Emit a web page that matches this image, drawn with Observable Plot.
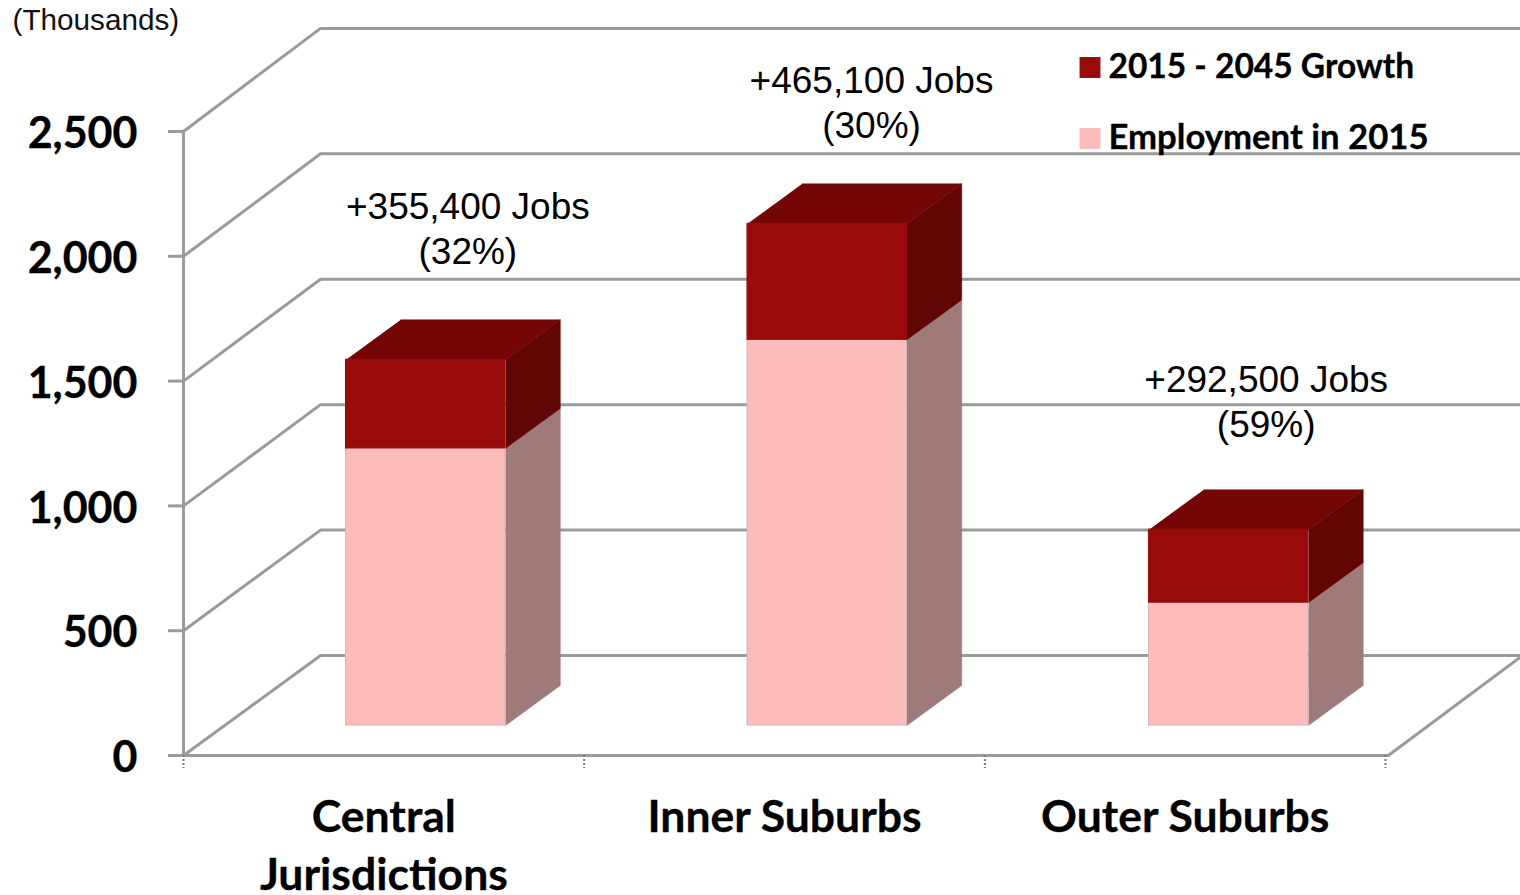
<!DOCTYPE html>
<html><head><meta charset="utf-8">
<style>html,body{margin:0;padding:0;background:#fff;overflow:hidden}svg{display:block}</style>
<script src="https://cdn.jsdelivr.net/npm/d3@7"></script>
<script src="https://cdn.jsdelivr.net/npm/@observablehq/plot@0.6"></script>
</head><body><div id="chart"></div>
<script>
const categories = ["Central\nJurisdictions", "Inner Suburbs", "Outer Suburbs"];
const employment2015 = [1110, 1545, 492];
const growth = [355.4, 465.1, 292.5];
const jobLabels = ["+355,400 Jobs\n(32%)", "+465,100 Jobs\n(30%)", "+292,500 Jobs\n(59%)"];
const yTicks = [0, 500, 1000, 1500, 2000, 2500];
const xBoundaries = [0, 1, 2, 3];
const legendNames = ["2015 - 2045 Growth", "Employment in 2015"];

const depthX = 0.342, depthY = 400.6, backScale = 1.005;
const barStart = 0.303, barWidth = 0.398, barNear = 0.3, barFar = 0.7;
const wall = "#9b9b9b";
const C = {base:"#fdbcbc", baseSide:"#9e7a7a", grow:"#990b0b", growSide:"#610505", top:"#750606"};
const labelLift = [650, 612, 640];
const labelShift = [84, 87, 81];
const SANS = "'Liberation Sans'", BOLD = "Lato";

const wallLines = [];
yTicks.forEach(v => {
  const back = v*backScale + depthY;
  wallLines.push({id:"g"+v, x:0, y:v}, {id:"g"+v, x:depthX, y:back}, {id:"g"+v, x:3+depthX, y:back});
});
wallLines.push({id:"left", x:0, y:0}, {id:"left", x:0, y:2500});
wallLines.push({id:"floor", x:0, y:0}, {id:"floor", x:3.007, y:0}, {id:"floor", x:3+depthX, y:depthY});

const polys = [], fronts = [];
categories.forEach((c, i) => {
  const L = i + barStart + i*0.002, R = L + barWidth;
  const dxN = barNear*depthX, dyN = barNear*depthY, dxF = barFar*depthX, dyF = barFar*depthY;
  const a = employment2015[i], b = a + growth[i];
  const quad = (id, fill, pts) => pts.forEach(p => polys.push({id:id+i, fill, x:p[0], y:p[1]}));
  quad("baseSide", C.baseSide, [[R+dxN,dyN],[R+dxF,dyF],[R+dxF,a+dyF],[R+dxN,a+dyN]]);
  quad("growSide", C.growSide, [[R+dxN,a+dyN],[R+dxF,a+dyF],[R+dxF,b+dyF],[R+dxN,b+dyN]]);
  quad("top", C.top, [[L+dxN,b+dyN],[R+dxN,b+dyN],[R+dxF,b+dyF],[L+dxF,b+dyF]]);
  fronts.push({x1:L+dxN, x2:R+dxN, y1:dyN, y2:a+dyN, fill:C.base, stroke:"#d8b4b4"});
  fronts.push({x1:L+dxN, x2:R+dxN, y1:a+dyN, y2:b+dyN, fill:C.grow, stroke:C.grow});
});

const boldText = {fontFamily:BOLD, fontWeight:700, fill:"#000", stroke:"#000", strokeWidth:0.3};
const plot = Plot.plot({
  width:1520, height:895,
  marginLeft:183, marginRight:135, marginTop:131, marginBottom:140,
  style:{background:"#fff", overflow:"hidden"},
  x:{domain:[0,3], axis:null},
  y:{domain:[0,2500], axis:null},
  marks:[
    Plot.line(wallLines, {x:"x", y:"y", z:"id", stroke:wall, strokeWidth:3, curve:"linear", clip:false}),
    Plot.axisX({ticks:xBoundaries, tickSize:13, tickFormat:()=>"", label:null, stroke:"#777", strokeWidth:2, strokeDasharray:"2 2"}),
    Plot.axisX({ticks:[0.5,1.5,2.5], tickSize:0, tickPadding:36, label:null,
      tickFormat:d=>categories[Math.floor(d)], fontFamily:BOLD, fontWeight:700, fontSize:44.5, fill:"#000",
      textStroke:"#000", textStrokeWidth:0.3, lineHeight:1.29}),
    Plot.axisY({ticks:yTicks, tickSize:15, tickFormat:()=>"", label:null, stroke:wall, strokeWidth:3}),
    Plot.axisY({ticks:yTicks, tickSize:0, tickPadding:46, dy:3, label:null, tickFormat:d3.format(","),
      fontFamily:BOLD, fontWeight:700, fontSize:43, fill:"#000", textStroke:"#000", textStrokeWidth:0.3}),
    Plot.line(polys, {x:"x", y:"y", z:"id", fill:"fill", stroke:"fill", strokeWidth:0.5, curve:"linear"}),
    Plot.rect(fronts, {x1:"x1", x2:"x2", y1:"y1", y2:"y2", fill:"fill", stroke:"stroke", strokeWidth:1}),
    ...jobLabels.map((d, i) => Plot.text([d], {x:()=>i+0.5, y:()=>employment2015[i]+growth[i]+labelLift[i], dx:labelShift[i],
      text:t=>t, fontFamily:SANS, fontSize:37, fill:"#000", lineHeight:1.22})),
    Plot.text(["(Thousands)"], {frameAnchor:"top-left", dx:-171, dy:-111, textAnchor:"start", lineAnchor:"middle", text:d=>d,
      fontFamily:SANS, fontSize:29.7, fill:"#111"}),
    Plot.dot([legendNames[0]], {frameAnchor:"top-left", dx:1089.5-183, dy:-64, symbol:"square", r:11.8, fill:C.grow}),
    Plot.dot([legendNames[1]], {frameAnchor:"top-left", dx:1089.5-183, dy:7, symbol:"square", r:11.8, fill:C.base}),
    Plot.text([legendNames[0]], {frameAnchor:"top-left", dx:1108-183, dy:-64, textAnchor:"start", lineAnchor:"middle", text:d=>d,
      fontSize:33.5, ...boldText}),
    Plot.text([legendNames[1]], {frameAnchor:"top-left", dx:1108-183, dy:6, textAnchor:"start", lineAnchor:"middle", text:d=>d,
      fontSize:34.7, ...boldText})
  ]
});
document.getElementById("chart").append(plot);
</script></body></html>
